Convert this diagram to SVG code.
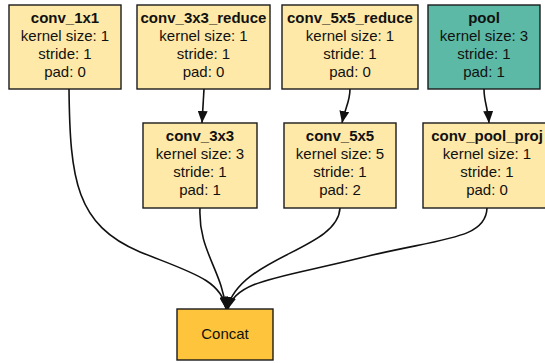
<svg xmlns="http://www.w3.org/2000/svg" width="545" height="363" viewBox="0 0 545 363">
  <style>
    .box { fill: #ffe9a8; stroke: #1a1a1a; stroke-width: 1.4; }
    .pool { fill: #5cb9a5; }
    .concat { fill: #fdc43c; }
    text { font-family: "Liberation Sans", Arial, sans-serif; font-size: 15px; fill: #111; text-anchor: middle; }
    .title { font-weight: bold; }
    .edge { fill: none; stroke: #111; stroke-width: 1.6; }
  </style>
  <defs>
    <marker id="arrow" viewBox="0 0 12 10" refX="12" refY="5" markerWidth="12" markerHeight="10" markerUnits="userSpaceOnUse" orient="auto">
      <path d="M0,0 L12,5 L0,10 Z" fill="#111"/>
    </marker>
  </defs>
  <rect width="545" height="363" fill="#ffffff"/>

  <g id="connectors">
    <path class="edge" marker-end="url(#arrow)" d="M204,89 L202,123"/>
    <path class="edge" marker-end="url(#arrow)" d="M350,89 C350,102 345,108 342,123"/>
    <path class="edge" marker-end="url(#arrow)" d="M484,89 C484,102 488,108 489,123"/>
    <path class="edge" marker-end="url(#arrow)" d="M69,89 C70,180 76,225 140,252 C190,272 222,280 226,309"/>
    <path class="edge" marker-end="url(#arrow)" d="M200,208 C198,250 222,270 226,309"/>
    <path class="edge" marker-end="url(#arrow)" d="M340,208 C338,250 240,256 227,309"/>
    <path class="edge" marker-end="url(#arrow)" d="M487,208 C486,240 440,238 360,258 C280,278 236,280 228,309"/>
  </g>

  <g id="conv_1x1">
    <rect class="box" x="9" y="5" width="112" height="84"/>
    <text class="title" x="65" y="23">conv_1x1</text>
    <text x="65" y="41">kernel size: 1</text>
    <text x="65" y="59">stride: 1</text>
    <text x="65" y="77">pad: 0</text>
  </g>

  <g id="conv_3x3_reduce">
    <rect class="box" x="137" y="5" width="133" height="84"/>
    <text class="title" x="203.5" y="23">conv_3x3_reduce</text>
    <text x="203.5" y="41">kernel size: 1</text>
    <text x="203.5" y="59">stride: 1</text>
    <text x="203.5" y="77">pad: 0</text>
  </g>

  <g id="conv_5x5_reduce">
    <rect class="box" x="282" y="5" width="136" height="84"/>
    <text class="title" x="350" y="23">conv_5x5_reduce</text>
    <text x="350" y="41">kernel size: 1</text>
    <text x="350" y="59">stride: 1</text>
    <text x="350" y="77">pad: 0</text>
  </g>

  <g id="pool">
    <rect class="box pool" x="428" y="5" width="112" height="84"/>
    <text class="title" x="484" y="23">pool</text>
    <text x="484" y="41">kernel size: 3</text>
    <text x="484" y="59">stride: 1</text>
    <text x="484" y="77">pad: 1</text>
  </g>

  <g id="conv_3x3">
    <rect class="box" x="143" y="123" width="114" height="85"/>
    <text class="title" x="200" y="141">conv_3x3</text>
    <text x="200" y="159">kernel size: 3</text>
    <text x="200" y="177">stride: 1</text>
    <text x="200" y="195">pad: 1</text>
  </g>

  <g id="conv_5x5">
    <rect class="box" x="284" y="123" width="112" height="85"/>
    <text class="title" x="340" y="141">conv_5x5</text>
    <text x="340" y="159">kernel size: 5</text>
    <text x="340" y="177">stride: 1</text>
    <text x="340" y="195">pad: 2</text>
  </g>

  <g id="conv_pool_proj">
    <rect class="box" x="423" y="123" width="128" height="85"/>
    <text class="title" x="487" y="141">conv_pool_proj</text>
    <text x="487" y="159">kernel size: 1</text>
    <text x="487" y="177">stride: 1</text>
    <text x="487" y="195">pad: 0</text>
  </g>

  <g id="concat">
    <rect class="box concat" x="177" y="309" width="96" height="51"/>
    <text x="225" y="339">Concat</text>
  </g>
</svg>
